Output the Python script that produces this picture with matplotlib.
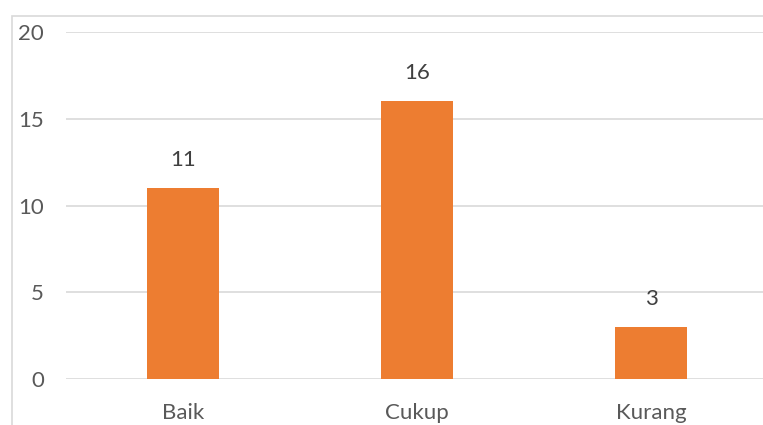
import matplotlib
matplotlib.use("Agg")
import matplotlib.pyplot as plt
from matplotlib.patches import Rectangle

categories = ["Baik", "Cukup", "Kurang"]
values = [11, 16, 3]
yticks = [0, 5, 10, 15, 20]

W, H = 763, 425
fig = plt.figure(figsize=(W/100, H/100), dpi=100)
plt.rcParams['font.family'] = ['Lato', 'DejaVu Sans']

# chart area border (cropped)
fig.patches.append(Rectangle((12/W, -0.1), 1.2, 1 - 16/H + 0.1, transform=fig.transFigure,
                             fill=False, edgecolor='#D9D9D9', linewidth=1.2))

left, right = 66/W, 768/W
bottom, top = 1 - 379/H, 1 - 32/H
ax = fig.add_axes([left, bottom, right - left, top - bottom])
ax.set_facecolor('none')
x = range(len(categories))
bars = ax.bar(x, values, width=0.31, color='#ED7D31', zorder=3)
ax.set_xlim(-0.5, len(categories) - 0.5)
ax.set_ylim(0, 20)
ax.set_yticks(yticks)
ax.set_xticks(list(x))
ax.set_xticklabels(categories)
ax.grid(axis='y', color='#D9D9D9', linewidth=1.2, zorder=0)
for s in ax.spines.values():
    s.set_visible(False)
ax.tick_params(axis='both', length=0, labelsize=16, labelcolor='#595959')
ax.tick_params(axis='y', pad=16)
ax.tick_params(axis='x', pad=17)
for b, v in zip(bars, values):
    ax.annotate(str(v), (b.get_x() + b.get_width()/2, v), xytext=(0, 13),
                textcoords='offset points', ha='center', va='bottom',
                fontsize=16, color='#404040')

fig.savefig('out.png', dpi=100)
